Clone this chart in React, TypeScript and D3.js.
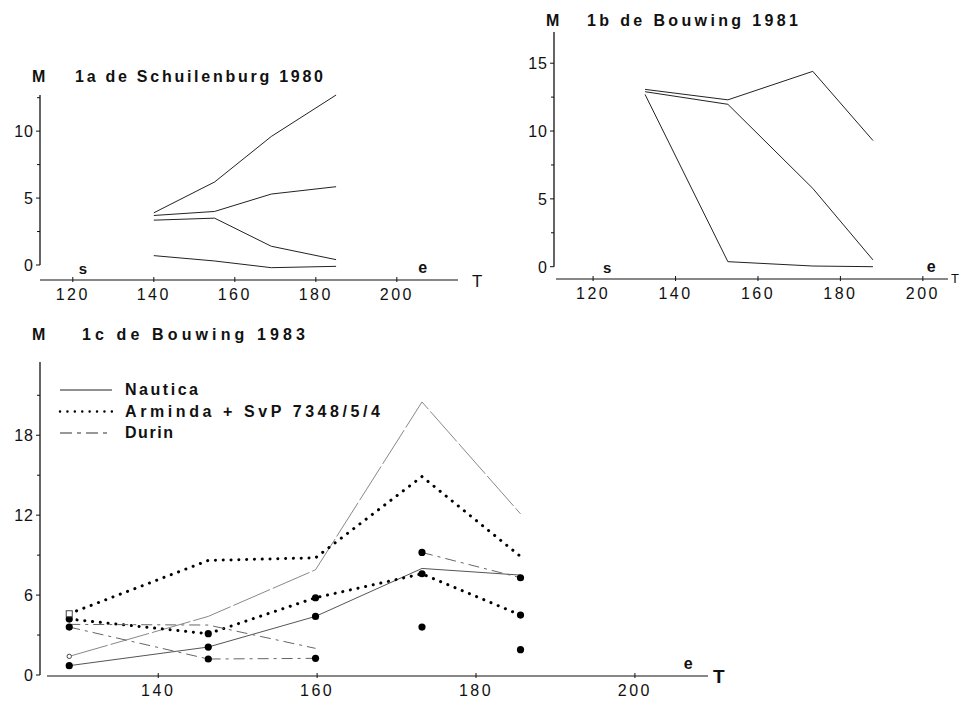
import React from 'react'
import * as d3 from 'd3'

// --- 1a de Schuilenburg 1980 ---
const tA = [140, 155, 169, 185]
const schA = [3.9, 6.2, 9.6, 12.7]
const schB = [3.7, 4.0, 5.3, 5.85]
const schC = [3.35, 3.5, 1.4, 0.4]
const schD = [0.7, 0.3, -0.2, -0.1]

// --- 1b de Bouwing 1981 ---
const tB = [132.6, 152.7, 173.3, 187.9]
const bo81A = [13.07, 12.3, 14.4, 9.3]
const bo81B = [12.9, 11.97, 5.77, 0.5]
const bo81C = [12.7, 0.37, 0.05, 0]

// --- 1c de Bouwing 1983 ---
const tC = [128.8, 146.3, 159.8, 173.2, 185.6]
const nauticaA = [1.4, 4.4, 7.9, 20.5, 12.1]
const nauticaB = [0.7, 2.1, 4.4, 8.0, 7.5]
const armindaA = [4.6, 8.6, 8.8, 14.9, 8.9]
const armindaB = [4.2, 3.1, 5.8, 7.6, 4.5]
const durinA = [3.8, 3.75, 2.0, null, null]
const durinB = [3.6, 1.2, 1.25, null, null]
const durinC = [null, null, null, 3.6, 1.9]
const durinD = [null, null, null, 9.2, 7.3]

const xTicksTop = [120, 140, 160, 180, 200]
const xTicksC = [140, 160, 180, 200]
const yTicksA = [0, 5, 10]
const yTicksB = [0, 5, 10, 15]
const yTicksC = [0, 6, 12, 18]
const legendNames = ['Nautica', 'Arminda + SvP 7348/5/4', 'Durin']

const FONT = '"Liberation Sans", Arial, Helvetica, sans-serif'
const INK = '#111'

type Val = number | null

function pathFor(xs: number[], ys: Val[], x: any, y: any) {
  const pts = xs.map((t, i) => [t, ys[i]] as [number, Val])
  return d3.line<[number, Val]>()
    .defined(d => d[1] != null)
    .x(d => x(d[0]))
    .y(d => y(d[1] as number))(pts) || ''
}

function Panel({ x, y, xTicks, yTicks, minor, axisY, yTop, yAxisX, titleM, title, titleX, titleW, titleY, s, e, tLabel, children }: any) {
  const [x0, x1] = x.range()
  return (
    <g>
      {/* y axis */}
      <line x1={yAxisX} x2={yAxisX} y1={y(0)} y2={y(yTop)} stroke={INK} strokeWidth={1.3} />
      {yTicks.map((v: number) => (
        <g key={v}>
          <line x1={yAxisX - 4} x2={yAxisX} y1={y(v)} y2={y(v)} stroke={INK} />
          <text x={yAxisX - 6} y={y(v) + 6} textAnchor="end" fontSize={16} fontFamily={FONT} letterSpacing={1} fill={INK}>{v}</text>
        </g>
      ))}
      {minor.map((v: number) => (
        <line key={'m' + v} x1={yAxisX - 3} x2={yAxisX} y1={y(v)} y2={y(v)} stroke={INK} />
      ))}
      {/* x axis */}
      <line x1={x0} x2={x1} y1={axisY} y2={axisY} stroke={INK} strokeWidth={1.2} />
      {xTicks.map((v: number) => (
        <g key={v}>
          <line x1={x(v)} x2={x(v)} y1={axisY - 3} y2={axisY + 2} stroke={INK} />
          <text x={x(v)} y={axisY + 20} textAnchor="middle" fontSize={16} fontFamily={FONT} letterSpacing={2.5} fill={INK}>{v}</text>
        </g>
      ))}
      {s != null && <text x={x(s)} y={axisY - 6} textAnchor="middle" fontSize={15} fontWeight="bold" fontFamily={FONT} fill={INK}>s</text>}
      {e != null && <text x={x(e)} y={axisY - 7} textAnchor="middle" fontSize={16} fontWeight="bold" fontFamily={FONT} fill={INK}>e</text>}
      {tLabel}
      <text x={yAxisX - 8} y={titleY} fontSize={16} fontWeight="bold" fontFamily={FONT} fill={INK}>{titleM}</text>
      <text x={titleX} y={titleY} fontSize={16} fontWeight="bold" fontFamily={FONT} fill={INK} textLength={titleW} lengthAdjust="spacing">{title}</text>
      {children}
    </g>
  )
}

export default function App() {
  // scales
  const xA = d3.scaleLinear().domain([111.9, 215.1]).range([40, 458])
  const yA = d3.scaleLinear().domain([0, 12.7]).range([265, 95])
  const xB = d3.scaleLinear().domain([111.0, 206.1]).range([556, 948])
  const yB = d3.scaleLinear().domain([0, 17.3]).range([266.7, 32])
  const xC = d3.scaleLinear().domain([126.0, 209.2]).range([47, 708])
  const yC = d3.scaleLinear().domain([0, 23.5]).range([675, 362])

  const seriesA = [schA, schB, schC, schD]
  const seriesB = [bo81A, bo81B, bo81C]

  const dotted = { stroke: '#000', strokeWidth: 3, strokeDasharray: '0.1 7.7', strokeLinecap: 'round' as const }
  const dashed = { stroke: '#666', strokeWidth: 1, strokeDasharray: '11 5 3 5' }

  const seriesC = [
    { vals: nauticaA, style: { stroke: '#888', strokeWidth: 1, strokeDasharray: '40 3' }, dots: [] as number[], line: true },
    { vals: nauticaB, style: { stroke: '#555', strokeWidth: 1 }, dots: [0, 1, 2], line: true },
    { vals: armindaA, style: dotted, dots: [], line: true },
    { vals: armindaB, style: dotted, dots: [0, 1, 2, 3, 4], line: true },
    { vals: durinA, style: dashed, dots: [], line: true },
    { vals: durinB, style: dashed, dots: [0, 1, 2], line: true },
    { vals: durinC, style: dashed, dots: [3, 4], line: false },
    { vals: durinD, style: dashed, dots: [3, 4], line: true },
  ]

  const legendStyles = [
    { stroke: '#222', strokeWidth: 1 },
    { stroke: '#000', strokeWidth: 2.4, strokeDasharray: '0.1 7.3', strokeLinecap: 'round' as const },
    { stroke: '#333', strokeWidth: 1.2, strokeDasharray: '12 5 4 5' },
  ]
  const legendW = [73, 255, 48]

  return (
    <svg width={963} height={703} style={{ position: 'absolute', left: 0, top: 0, background: '#fff' }}>
      <Panel x={xA} y={yA} xTicks={xTicksTop} yTicks={yTicksA} minor={[2.5, 7.5, 12.5]} axisY={280} yTop={12.7} yAxisX={40}
        titleM="M" title="1a de Schuilenburg 1980" titleX={75} titleW={248} titleY={82} s={122.5} e={206.4}
        tLabel={<text x={472} y={287} fontSize={17} fontFamily={FONT} fill={INK}>T</text>}>
        {seriesA.map((v, i) => (
          <path key={i} d={pathFor(tA, v, xA, yA)} fill="none" stroke="#222" strokeWidth={1} />
        ))}
      </Panel>

      <Panel x={xB} y={yB} xTicks={xTicksTop} yTicks={yTicksB} minor={[2.5, 7.5, 12.5]} axisY={279} yTop={17.3} yAxisX={554}
        titleM="M" title="1b de Bouwing 1981" titleX={587} titleW={211} titleY={26} s={123.4} e={202}
        tLabel={<text x={951} y={283} fontSize={13} fontFamily={FONT} fill={INK}>T</text>}>
        {seriesB.map((v, i) => (
          <path key={i} d={pathFor(tB, v, xB, yB)} fill="none" stroke="#222" strokeWidth={1} />
        ))}
      </Panel>

      <Panel x={xC} y={yC} xTicks={xTicksC} yTicks={yTicksC} minor={[3, 9, 15, 21]} axisY={676} yTop={23.5} yAxisX={40}
        titleM="M" title="1c de Bouwing 1983" titleX={82} titleW={223} titleY={340} s={null} e={206.7}
        tLabel={<text x={713} y={683} fontSize={19} fontWeight="bold" fontFamily={FONT} fill={INK}>T</text>}>
        {seriesC.filter(s => s.line).map((s, i) => (
          <path key={i} d={pathFor(tC, s.vals, xC, yC)} fill="none" {...s.style} />
        ))}
        {seriesC.map((s, i) => s.dots.map(j => (
          <circle key={i + '-' + j} cx={xC(tC[j])} cy={yC(s.vals[j] as number)} r={3.6} fill="#000" />
        )))}
        <circle cx={xC(tC[0])} cy={yC(nauticaA[0])} r={2.2} fill="#fff" stroke="#444" />
        <rect x={xC(tC[0]) - 3} y={yC(armindaA[0]) - 3} width={6} height={6} fill="#fff" stroke="#444" />
        {legendNames.map((n, i) => (
          <g key={n}>
            <line x1={60} x2={112} y1={390 + i * 21.5} y2={390 + i * 21.5} {...legendStyles[i]} />
            <text x={125} y={395 + i * 21.5} fontSize={16} fontWeight="bold" fontFamily={FONT} fill={INK}
              textLength={legendW[i]} lengthAdjust="spacing">{n}</text>
          </g>
        ))}
      </Panel>
    </svg>
  )
}
